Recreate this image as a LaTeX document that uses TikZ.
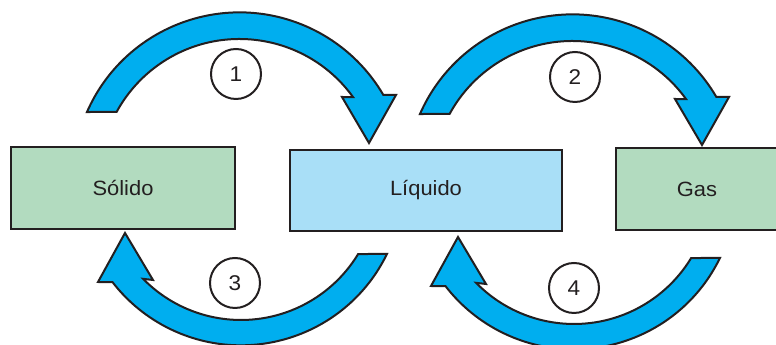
\documentclass[tikz,border=0pt]{standalone}
\usepackage{fontspec}
\setmainfont[FakeStretch=1.06]{Liberation Sans}
\definecolor{ink}{HTML}{231F20}
\definecolor{solidgreen}{HTML}{B2DBBF}
\definecolor{liquidblue}{HTML}{A9DFF7}
\definecolor{flowblue}{HTML}{00AEEF}
\begin{document}
\begin{tikzpicture}[x=0.75pt,y=0.75pt,
  phase/.style={draw=ink, line width=1.9pt, inner sep=0pt, text=ink,
    font=\fontsize{15.5}{18}\selectfont},
  flow/.style={draw=ink, fill=flowblue, line width=1.5pt, line join=miter},
  stepnum/.style={circle, draw=ink, line width=1.5pt, fill=white,
    minimum size=37.5pt, inner sep=0pt, text=ink,
    font=\fontsize{16}{18}\selectfont}]
\useasboundingbox (0,0) rectangle (776,345);

% phases
\node[phase, fill=solidgreen, minimum width=168pt, minimum height=61.5pt]
  (solido) at (123,157) {Sólido};
\node[phase, fill=liquidblue, minimum width=204pt, minimum height=60.75pt]
  (liquido) at (426,154.5) {Líquido};
\node[phase, fill=solidgreen, minimum width=121.5pt, minimum height=61.5pt]
  (gas) at (697,156) {Gas};

% upper curved arrows (left to right)
\draw[flow, shift={(239.5,166)}]
  (156.3:166.6) arc[start angle=156.3, end angle=30.3, radius=166.6]
  -- (156.5,84) -- (129.5,36) -- (102.5,82)
  -- (35.8:140) arc[start angle=35.8, end angle=151.3, radius=140] -- cycle;
\draw[flow, shift={(572.5,164)}]
  (156.3:166.6) arc[start angle=156.3, end angle=30.3, radius=166.6]
  -- (156.5,84) -- (129.5,36) -- (102.5,82)
  -- (35.8:140) arc[start angle=35.8, end angle=151.3, radius=140] -- cycle;

% lower curved arrows (right to left)
\draw[flow, shift={(241,162)}]
  (-25.9:162.3) arc[start angle=-25.9, end angle=-142.3, radius=162.3]
  -- (-143,-99) -- (-116,-50) -- (-88,-97)
  -- (-135.6:137) arc[start angle=-135.6, end angle=-31.25, radius=137] -- cycle;
\draw[flow, shift={(574,158)}]
  (-25.9:162.3) arc[start angle=-25.9, end angle=-142.3, radius=162.3]
  -- (-143,-99) -- (-116,-50) -- (-88,-97)
  -- (-135.6:137) arc[start angle=-135.6, end angle=-31.25, radius=137] -- cycle;

% step numbers
\node[stepnum] (n1) at (236,271) {1};
\node[stepnum] (n2) at (575,268) {2};
\node[stepnum] (n3) at (235,62) {3};
\node[stepnum] (n4) at (574,57) {4};
\end{tikzpicture}
\end{document}
